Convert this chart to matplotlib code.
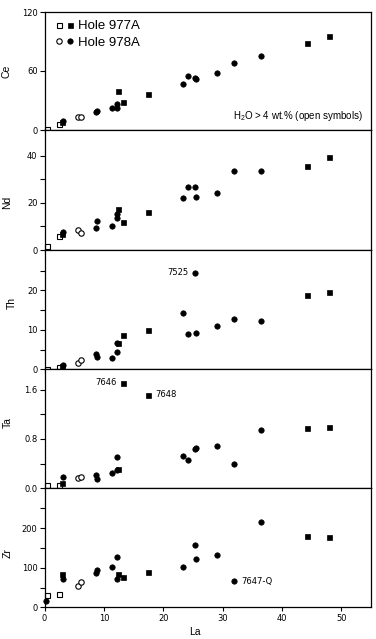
import matplotlib
matplotlib.use('Agg')
import numpy as np, matplotlib.pyplot as plt
from matplotlib.legend_handler import HandlerTuple

plt.rcParams['font.family'] = ['Liberation Sans', 'DejaVu Sans']
plt.rcParams['mathtext.default'] = 'regular'

# ── data (La vs trace elements, ppm) ──
# Hole 977A, open squares (H2O > 4 wt.%)
la_977_open = [0.37, 2.45]
ce_977_open = [1.0, 6.4]
nd_977_open = [1.7, 6.1]
th_977_open = [0.1, 0.5]
ta_977_open = [0.05, 0.05]
zr_977_open = [30, 33]

# Hole 977A, filled squares
la_977 = [2.9, 12.45, 13.3, 17.5, 44.2, 48.0]
ce_977 = [7.8, 39.4, 28.2, 36.3, 88.5, 95.9]
nd_977 = [6.9, 17.4, 12.0, 16.0, 35.7, 39.7]
th_977 = [0.9, 6.6, 8.6, 9.9, 18.7, 19.5]
ta_977 = [0.08, 0.32, 1.71, 1.52, 0.98, 0.995]
zr_977 = [83.5, 84, 76, 89, 180, 177]

# Hole 978A, open circles (H2O > 4 wt.%)
la_978_open = [5.7, 6.15]
ce_978_open = [12.9, 12.9]
nd_978_open = [8.6, 7.4]
th_978_open = [1.5, 2.4]
ta_978_open = [0.17, 0.18]
zr_978_open = [55, 63]

# Hole 978A, filled circles
la_978 = [0.3, 3.2, 8.7, 8.8, 11.3, 12.2, 12.2, 23.4, 24.1, 25.4, 25.5, 29.1, 32.0, 36.5]
ce_978 = [np.nan, 9.1, 18.6, 19.5, 22.4, 22.4, 26.5, 46.8, 54.6, 53.2, 51.6, 58.3, 67.8, 75.6]
nd_978 = [np.nan, 7.7, 9.2, 12.5, 10.3, 13.5, 15.3, 22.3, 26.7, 26.7, 22.7, 24.3, 33.7, 33.7]
th_978 = [np.nan, 1.0, 3.9, 3.2, 2.9, 4.3, 6.6, 14.3, 8.9, 24.5, 9.1, 11.0, 12.8, 12.2]
ta_978 = [np.nan, 0.19, 0.22, 0.145, 0.25, 0.51, 0.30, 0.53, 0.46, 0.63, 0.66, 0.69, 0.40, 0.94]
zr_978 = [17, 71, 87, 94, 101, 127, 72, 101, np.nan, 158.5, 122, 132, 66, 217]

elements = ['Ce', 'Nd', 'Th', 'Ta', 'Zr']
x_ticks = [0, 10, 20, 30, 40, 50]

# ── layout (pixel positions of the stacked panels) ──
W, H = 376, 639
fig = plt.figure(figsize=(W/100, H/100), dpi=100)
left_px, right_px = 44.5, 371
edges_px = [12, 130, 250, 369.3, 488.3, 607.3]
ylims = [(0, 120), (0, 51), (0, 30.2), (0, 1.93), (0, 301)]
major = [[0, 60, 120], [0, 20, 40], [0, 10, 20], [0, 0.8, 1.6], [0, 100, 200]]
minor = [[], [10, 30], [5, 15, 25], [0.4, 1.2], [50, 150, 250]]
label_y = [0.5, 0.40, 0.556, 0.55, 0.456]
label_x = [-0.10, -0.10, -0.085, -0.097, -0.097]

ys_open_sq = [ce_977_open, nd_977_open, th_977_open, ta_977_open, zr_977_open]
ys_sq = [ce_977, nd_977, th_977, ta_977, zr_977]
ys_open_c = [ce_978_open, nd_978_open, th_978_open, ta_978_open, zr_978_open]
ys_c = [ce_978, nd_978, th_978, ta_978, zr_978]

ms = 3.6
axes = []
for i, el in enumerate(elements):
    top, bot = edges_px[i], edges_px[i+1]
    ax = fig.add_axes([left_px/W, 1 - bot/H, (right_px-left_px)/W, (bot-top)/H])
    axes.append(ax)
    h1, = ax.plot(la_977_open, ys_open_sq[i], 's', ms=ms, mfc='white', mec='black', mew=0.8, clip_on=False)
    h2, = ax.plot(la_977, ys_sq[i], 's', ms=ms, mfc='black', mec='black', mew=0.5, clip_on=False)
    h3, = ax.plot(la_978_open, ys_open_c[i], 'o', ms=ms+0.3, mfc='white', mec='black', mew=0.8, clip_on=False)
    h4, = ax.plot(la_978, ys_c[i], 'o', ms=ms+0.3, mfc='black', mec='black', mew=0.5, clip_on=False)
    ax.set_xlim(0, 55)
    ax.set_ylim(*ylims[i])
    ax.set_xticks(x_ticks)
    ax.set_yticks(major[i])
    ax.set_yticks(minor[i], minor=True)
    if el == 'Ta':
        ax.set_yticklabels([f'{v:.1f}' for v in major[i]])
    ax.tick_params(axis='both', which='both', direction='out', length=3, width=0.8,
                   labelsize=6, pad=1.5, labelfontfamily='DejaVu Sans')
    ax.tick_params(axis='y', which='both', length=3.5)
    if i < len(elements) - 1:
        ax.tick_params(axis='x', labelbottom=False)
    for s in ax.spines.values():
        s.set_linewidth(0.9)
    ax.set_ylabel(el, fontsize=7.5)
    ax.yaxis.set_label_coords(label_x[i], label_y[i])
    if i == 0:
        leg = ax.legend([(h1, h2), (h3, h4)], ['Hole 977A', 'Hole 978A'],
                        handler_map={tuple: HandlerTuple(ndivide=None, pad=0.5)},
                        loc='upper left', bbox_to_anchor=(0.021, 0.975), frameon=False,
                        fontsize=9.5, handlelength=1.2, handletextpad=0.4,
                        labelspacing=0.32, borderaxespad=0.0)
        ax.text(0.975, 0.12, '$H_2O$ > 4 wt.% (open symbols)', transform=ax.transAxes,
                ha='right', va='center', fontsize=7)

axes[-1].set_xlabel('La', fontsize=7.5)
axes[-1].xaxis.set_label_coords(0.461, -0.165)

# sample annotations
ann = dict(fontsize=6, family='DejaVu Sans', va='center')
axes[2].annotate('7525', (la_978[9], th_978[9]), xytext=(-5, 0),
                 textcoords='offset points', ha='right', **ann)
axes[3].annotate('7646', (la_977[2], ta_977[2]), xytext=(-5, 0),
                 textcoords='offset points', ha='right', **ann)
axes[3].annotate('7648', (la_977[3], ta_977[3]), xytext=(5, 0),
                 textcoords='offset points', ha='left', **ann)
axes[4].annotate('7647-Q', (la_978[12], zr_978[12]), xytext=(5, 0),
                 textcoords='offset points', ha='left', **ann)

plt.savefig('out.png', dpi=100)
plt.close()
